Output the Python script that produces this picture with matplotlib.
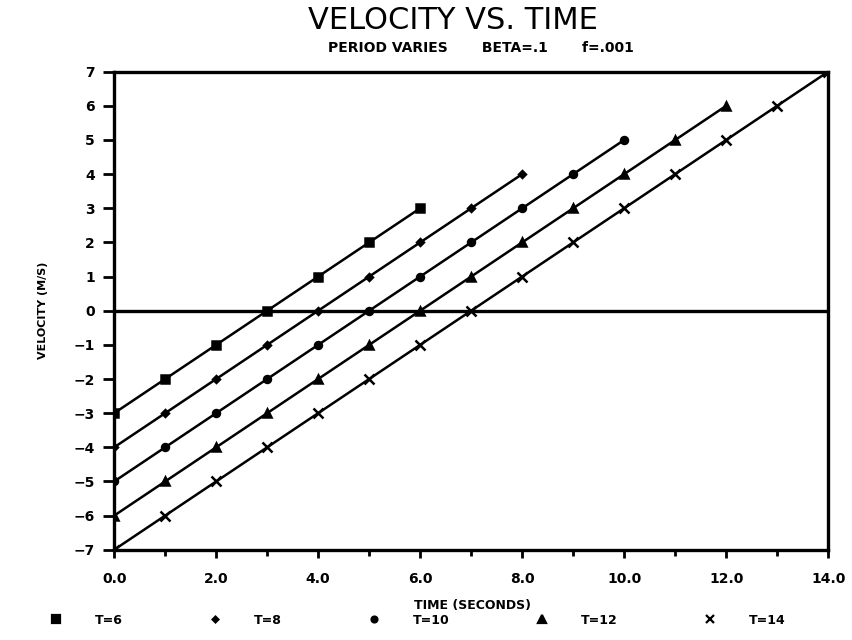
import numpy as np
import matplotlib
matplotlib.use("Agg")
import matplotlib.pyplot as plt
from matplotlib.lines import Line2D

# Datos: tiempo (s) y velocidad (m/s) para cada periodo T
t6 = [0, 1, 2, 3, 4, 5, 6]
v6 = [-3, -2, -1, 0, 1, 2, 3]
t8 = [0, 1, 2, 3, 4, 5, 6, 7, 8]
v8 = [-4, -3, -2, -1, 0, 1, 2, 3, 4]
t10 = [0, 1, 2, 3, 4, 5, 6, 7, 8, 9, 10]
v10 = [-5, -4, -3, -2, -1, 0, 1, 2, 3, 4, 5]
t12 = [0, 1, 2, 3, 4, 5, 6, 7, 8, 9, 10, 11, 12]
v12 = [-6, -5, -4, -3, -2, -1, 0, 1, 2, 3, 4, 5, 6]
t14 = [0, 1, 2, 3, 4, 5, 6, 7, 8, 9, 10, 11, 12, 13, 14]
v14 = [-7, -6, -5, -4, -3, -2, -1, 0, 1, 2, 3, 4, 5, 6, 7]

etiquetas = ['T=6', 'T=8', 'T=10', 'T=12', 'T=14']
marcadores = ['s', 'D', 'o', '^', 'x']
tamanos = [6, 3.5, 5, 6, 7]

xticks = [0, 2, 4, 6, 8, 10, 12, 14]
yticks = [-7, -6, -5, -4, -3, -2, -1, 0, 1, 2, 3, 4, 5, 6, 7]

plt.rcParams['font.family'] = ['DejaVu Sans']

fig = plt.figure(figsize=(8.52, 6.4), dpi=100)
ax = fig.add_axes([0.134, 0.141, 0.838, 0.747])

series = [(t6, v6), (t8, v8), (t10, v10), (t12, v12), (t14, v14)]
for (t, v), m, s in zip(series, marcadores, tamanos):
    ax.plot(t, v, color='black', lw=1.8, marker=m, ms=s, mew=1.8,
            mfc='black', mec='black')

ax.axhline(0, color='black', lw=2.4)

ax.set_xlim(0, 14)
ax.set_ylim(-7, 7)
ax.set_xticks(xticks)
ax.set_xticklabels([f'{x:.1f}' for x in xticks], fontweight='bold', fontsize=10)
ax.set_xticks([1, 3, 5, 7, 9, 11, 13], minor=True)
ax.set_yticks(yticks)
ax.set_yticklabels([f'{y}' if y >= 0 else f'\u2212{abs(y)}' for y in yticks],
                   fontweight='bold', fontsize=10)
ax.tick_params(axis='both', which='both', direction='out', width=2, color='black')
ax.tick_params(axis='x', which='major', length=6, pad=10)
ax.tick_params(axis='x', which='minor', length=4)
ax.tick_params(axis='y', length=8, pad=6)
for sp in ax.spines.values():
    sp.set_linewidth(2.4)

ax.set_ylabel('VELOCITY (M/S)', fontweight='bold', fontsize=8, labelpad=18)

# Títulos
fig.text(0.532, 0.968, 'VELOCITY VS. TIME', ha='center', va='center',
         fontsize=22)
fig.text(0.564, 0.925, 'PERIOD VARIES       BETA=.1       f=.001', ha='center',
         va='center', fontsize=10, fontweight='bold')
fig.text(0.555, 0.054, 'TIME (SECONDS)', ha='center', va='center',
         fontsize=9, fontweight='bold')

# Leyenda inferior
manejadores = [Line2D([], [], color='black', ls='none', marker=m, ms=s * 0.85,
                      mfc='black', mec='black', mew=1.6)
               for m, s in zip(marcadores, tamanos)]
fig.legend(manejadores, etiquetas, loc='center', ncol=5, frameon=False,
           bbox_to_anchor=(0.49, 0.031), prop={'weight': 'bold', 'size': 9},
           handlelength=1, handletextpad=2.6, columnspacing=6.9)

fig.savefig('out.png', dpi=100)
